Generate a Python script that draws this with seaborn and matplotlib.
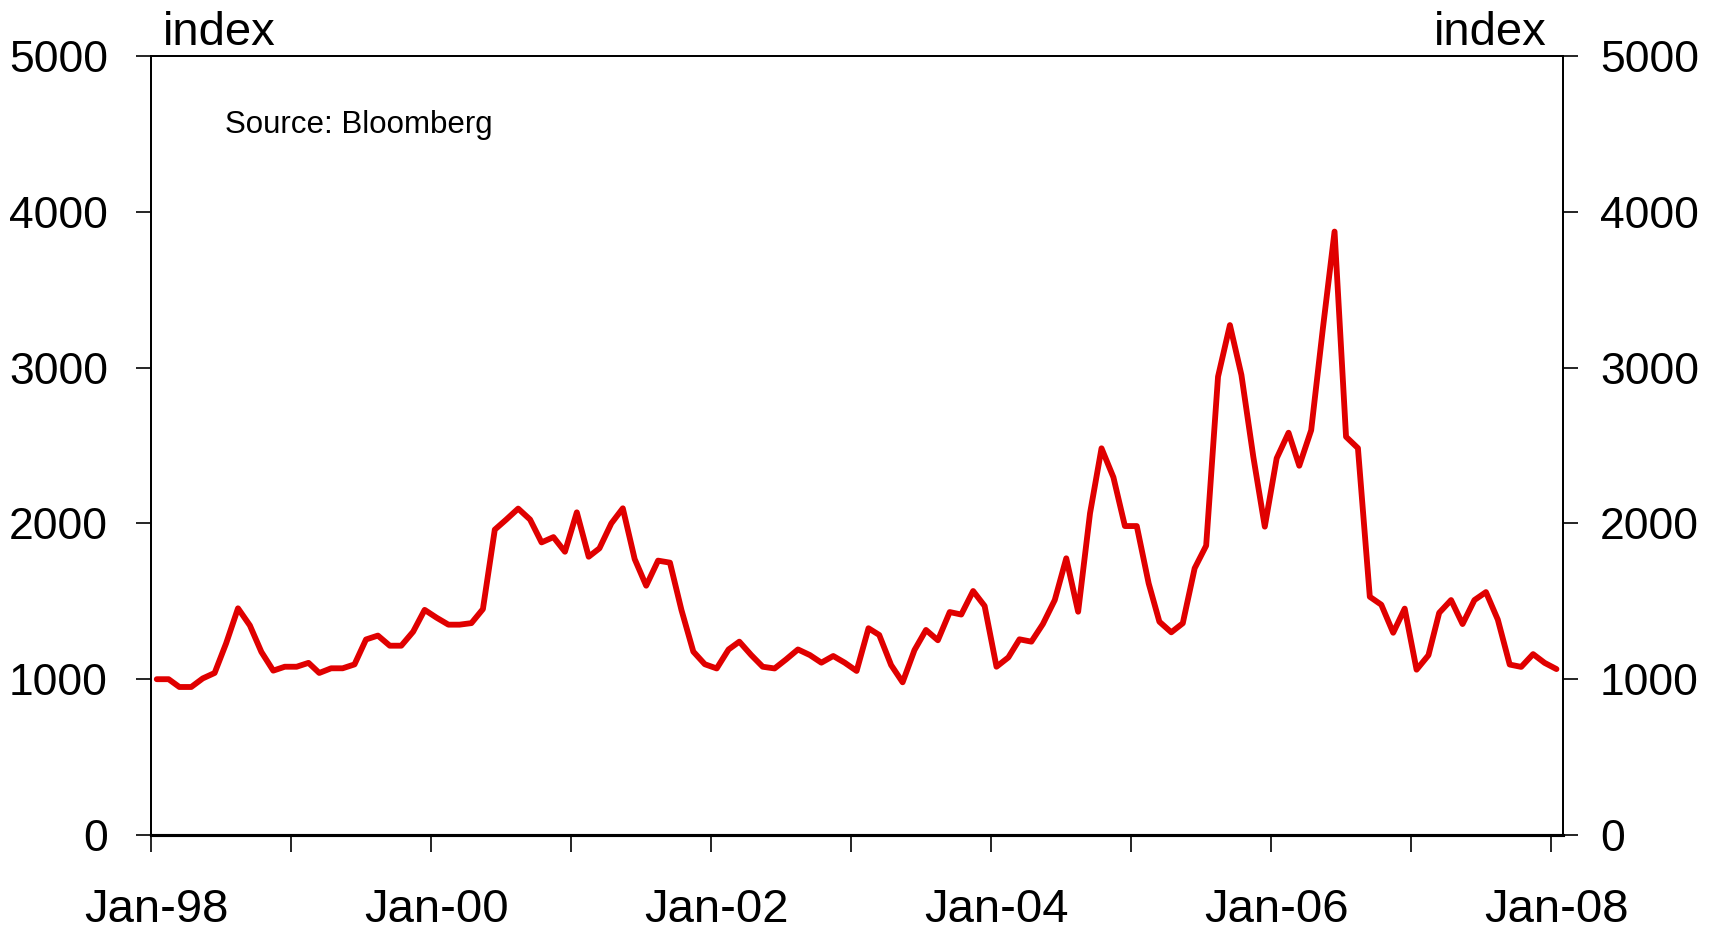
import numpy as np
import pandas as pd
import matplotlib
matplotlib.use("Agg")
import matplotlib.pyplot as plt
import matplotlib.dates as mdates
from matplotlib.ticker import FixedLocator, FixedFormatter, NullFormatter
import seaborn as sns

# ---- data (monthly index, Jan-98 .. Jan-08) ----
start_month = "1998-01-01"
index_values = [
    1000, 1000, 950, 950, 1005, 1040, 1230, 1455, 1345, 1175, 1055, 1080,
    1080, 1105, 1040, 1070, 1070, 1095, 1255, 1280, 1215, 1215, 1305, 1445,
    1395, 1350, 1350, 1360, 1450, 1960, 2025, 2095, 2025, 1878, 1912, 1818,
    2071, 1786, 1840, 2000, 2097, 1771, 1600, 1761, 1748, 1444, 1177, 1096,
    1069, 1191, 1241, 1155, 1080, 1069, 1127, 1191, 1155, 1106, 1149, 1106,
    1053, 1327, 1284, 1091, 980, 1187, 1316, 1250, 1431, 1415, 1566, 1470,
    1080, 1140, 1256, 1241, 1354, 1508, 1776, 1433, 2065, 2482, 2296, 1983,
    1983, 1615, 1369, 1301, 1359, 1712, 1857, 2942, 3273, 2953, 2428, 1979,
    2418, 2582, 2370, 2598, 3240, 3873, 2556, 2483, 1529, 1478, 1298, 1453,
    1061, 1154, 1426, 1508, 1354, 1508, 1559, 1382, 1094, 1079, 1161, 1105,
    1065,
]
x_tick_labels = ["Jan-98", "Jan-00", "Jan-02", "Jan-04", "Jan-06", "Jan-08"]
y_ticks = [0, 1000, 2000, 3000, 4000, 5000]
y_label = "index"
source_note = "Source: Bloomberg"

dates = pd.date_range(start_month, periods=len(index_values), freq="MS") + pd.Timedelta(days=15)
df = pd.DataFrame({"date": dates, "value": index_values})

sns.set_style("white")
plt.rcParams["font.family"] = ["Liberation Sans", "DejaVu Sans"]

W, H = 1723, 933
fig = plt.figure(figsize=(W / 100, H / 100), dpi=100)
left_px, right_px, top_px, bottom_px = 151, 1562.6, 56, 835
ax = fig.add_axes([left_px / W, 1 - bottom_px / H, (right_px - left_px) / W, (bottom_px - top_px) / H])

sns.lineplot(data=df, x="date", y="value", ax=ax, color="#E00000", linewidth=4.2, legend=False)

ax.set_xlim(pd.Timestamp("1998-01-01"), pd.Timestamp("2008-02-01"))
ax.set_ylim(0, 5000)
ax.set_xlabel("")
ax.set_ylabel("")

# x axis: yearly tick marks, labels every two years centred mid-month
ax.xaxis.set_major_locator(mdates.YearLocator(1, month=1, day=1))
ax.xaxis.set_major_formatter(NullFormatter())
label_dates = [mdates.date2num(pd.Timestamp(f"{1998 + 2 * k}-01-16")) for k in range(len(x_tick_labels))]
ax.xaxis.set_minor_locator(FixedLocator(label_dates))
ax.xaxis.set_minor_formatter(FixedFormatter(x_tick_labels))
ax.tick_params(axis="x", which="major", direction="out", length=12, width=1.2, color="black", bottom=True)
ax.tick_params(axis="x", which="minor", length=0, pad=38, labelsize=34, labelcolor="black")

# y axis left
ax.set_yticks(y_ticks)
ax.set_yticklabels([str(v) for v in y_ticks])
ax.tick_params(axis="y", direction="out", length=11, width=1.2, color="black", left=True,
               pad=20, labelsize=32, labelcolor="black")

# y axis right
ax2 = ax.twinx()
ax2.set_ylim(0, 5000)
ax2.set_yticks(y_ticks)
ax2.set_yticklabels([str(v) for v in y_ticks])
ax2.tick_params(axis="y", direction="out", length=11, width=1.2, color="black", right=True,
                pad=16, labelsize=32, labelcolor="black")
ax2.grid(False)

for a in (ax, ax2):
    for s in a.spines.values():
        s.set_color("black")
        s.set_linewidth(1.3)
    a.spines["bottom"].set_linewidth(2.2)
ax.grid(False)

fig.text(163 / W, 1 - 45 / H, y_label, ha="left", va="baseline", fontsize=34, color="black")
fig.text(1547 / W, 1 - 45 / H, y_label, ha="right", va="baseline", fontsize=34, color="black")
fig.text(225 / W, 1 - 133 / H, source_note, ha="left", va="baseline", fontsize=22.5, color="black")

fig.savefig("out.png", dpi=100, facecolor="white")
